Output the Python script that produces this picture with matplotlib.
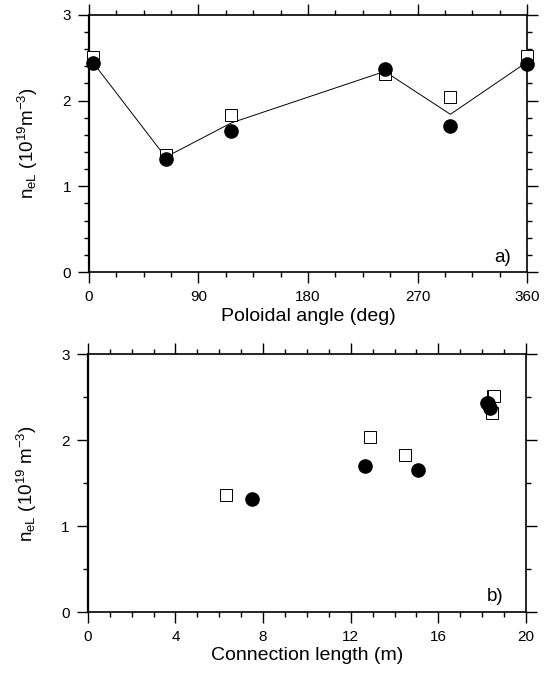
import matplotlib
matplotlib.use("Agg")
import matplotlib.pyplot as plt
from matplotlib.ticker import MultipleLocator

# Data
angle_deg = [3, 63, 117, 243, 297, 360]
n_circle_a = [2.44, 1.32, 1.65, 2.37, 1.70, 2.43]
n_square_a = [2.51, 1.36, 1.83, 2.31, 2.04, 2.52]
n_line_a = [2.45, 1.34, 1.74, 2.34, 1.84, 2.45]

conn_circle = [18.2, 7.5, 15.05, 18.35, 12.65, 18.25]
n_circle_b = [2.44, 1.32, 1.65, 2.38, 1.70, 2.43]
conn_square = [18.5, 6.3, 14.5, 18.45, 12.9, 18.55]
n_square_b = [2.51, 1.36, 1.83, 2.32, 2.04, 2.52]

plt.rcParams["font.family"] = ["Liberation Sans", "DejaVu Sans"]
plt.rcParams["mathtext.fontset"] = "custom"
plt.rcParams["mathtext.rm"] = "Liberation Sans"
plt.rcParams["mathtext.it"] = "Liberation Sans:italic"

ylabel_a = r"n$_{\mathrm{eL}}$ (10$^{19}$m$^{-3}$)"
ylabel_b = r"n$_{\mathrm{eL}}$ (10$^{19}$ m$^{-3}$)"

fig = plt.figure(figsize=(5.56, 6.75), dpi=100)
ax1 = fig.add_axes([0.160, 0.597, 0.788, 0.381])
ax2 = fig.add_axes([0.158, 0.093, 0.788, 0.382])


def style(ax, ylabel):
    for s in ax.spines.values():
        s.set_linewidth(1.2)
    ax.spines["left"].set_linewidth(1.6)
    ax.tick_params(which="both", direction="out", top=True, right=True,
                   labelsize=11, width=1.0, colors="black")
    ax.tick_params(which="major", length=8, pad=5)
    ax.tick_params(which="minor", length=3.5)
    ax.set_ylim(0, 3)
    ax.yaxis.set_major_locator(MultipleLocator(1))
    ax.set_ylabel(ylabel, fontsize=13.5)
    ax.yaxis.set_label_coords(-0.112, 0.5)


# panel a
ax1.plot(angle_deg, n_line_a, color="black", lw=0.7, zorder=2)
ax1.plot(angle_deg, n_square_a, "s", ms=8, mfc="white", mec="black",
         mew=0.7, zorder=3, clip_on=False)
ax1.plot(angle_deg, n_circle_a, "o", ms=9.5, color="black", zorder=4,
         clip_on=False)
ax1.set_xlim(0, 360)
ax1.xaxis.set_major_locator(MultipleLocator(90))
ax1.xaxis.set_minor_locator(MultipleLocator(22.5))
ax1.yaxis.set_minor_locator(MultipleLocator(0.2))
ax1.set_xlabel("Poloidal angle (deg)", fontsize=14, labelpad=3)
ax1.text(333, 0.12, "a)", fontsize=13.5)
style(ax1, ylabel_a)

# panel b
ax2.plot(conn_square, n_square_b, "s", ms=8, mfc="white", mec="black",
         mew=0.7, zorder=3, linestyle="none")
ax2.plot(conn_circle, n_circle_b, "o", ms=9.5, color="black", zorder=4,
         linestyle="none")
ax2.set_xlim(0, 20)
ax2.xaxis.set_major_locator(MultipleLocator(4))
ax2.xaxis.set_minor_locator(MultipleLocator(1))
ax2.yaxis.set_minor_locator(MultipleLocator(0.5))
ax2.set_xlabel("Connection length (m)", fontsize=14, labelpad=2)
ax2.text(18.2, 0.13, "b)", fontsize=13.5)
style(ax2, ylabel_b)

fig.savefig("out.png", dpi=100)
